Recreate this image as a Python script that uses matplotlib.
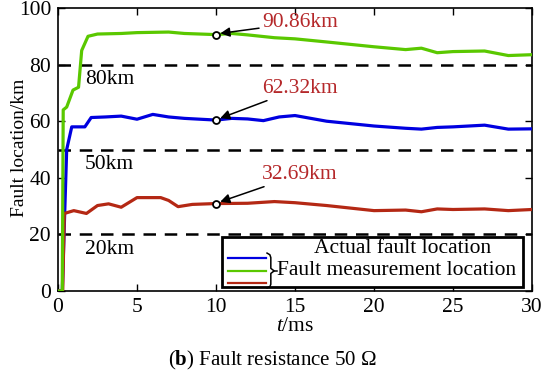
import numpy as np
import matplotlib.pyplot as plt
from matplotlib.patches import Rectangle

plt.rcParams['font.family'] = ['Liberation Serif', 'DejaVu Serif']
plt.rcParams['mathtext.fontset'] = 'custom'
plt.rcParams['mathtext.it'] = 'Liberation Serif:italic'
plt.rcParams['mathtext.rm'] = 'Liberation Serif'
plt.rcParams['mathtext.bf'] = 'Liberation Serif:bold'

t_green = [0, 0.27, 0.33, 0.55, 0.95, 1.3, 1.5, 1.9, 2.5, 4, 5, 7, 8, 10, 11, 12, 13.7, 15,
           17, 20, 22, 23, 24, 25, 27, 28.5, 30]
green = [0, 0, 64, 65, 71, 72, 85, 90, 90.8, 91, 91.3, 91.5, 91, 90.6, 91, 90.5, 89.5, 89.1,
         88, 86.3, 85.3, 85.8, 84.2, 84.6, 84.8, 83.2, 83.5]

t_blue = [0, 0.27, 0.55, 0.87, 1.7, 2.1, 3, 4, 5, 6, 7, 8, 10, 11, 12, 13, 14, 15,
          17, 20, 22, 23, 24, 25, 27, 28.5, 30]
blue = [0, 0, 50, 58, 58, 61.3, 61.5, 61.8, 60.7, 62.4, 61.5, 61, 60.4, 61, 60.8, 60.2, 61.5, 62,
        60, 58.3, 57.5, 57.2, 57.8, 58, 58.6, 57.2, 57.3]

t_red = [0, 0.3, 0.4, 1, 1.8, 2.5, 3.2, 4, 5, 6.5, 7, 7.6, 8.5, 10, 12, 13.7, 15,
         17, 20, 22, 23, 24, 25, 27, 28.5, 30]
red = [0, 0, 27.4, 28.4, 27.4, 30.2, 30.8, 29.6, 33, 33, 32, 29.8, 30.6, 30.9, 31, 31.6, 31.2,
       30.2, 28.4, 28.6, 28, 29, 28.8, 29, 28.4, 28.8]

actual = [80, 50, 20]
actual_labels = ['80km', '50km', '20km']
ann_vals = ['90.86km', '62.32km', '32.69km']
ann_t = 10

c_green = '#5ac800'
c_blue = '#0000e0'
c_red = '#b42814'
c_txt = '#b5282a'
fs = 15.5

fig = plt.figure(figsize=(5.5, 3.77), dpi=100)
ax = fig.add_axes([58/550, 1-291/377, 474/550, 283/377])

for v, lab in zip(actual, actual_labels):
    ax.plot([0, 30], [v, v], color='black', lw=1.8, ls=(0, (5, 3.5)), zorder=2)
    ax.text(1.7, v - 5.4, lab, fontsize=fs, va='center', ha='left')

for tt, yy, c in [(t_blue, blue, c_blue), (t_red, red, c_red), (t_green, green, c_green)]:
    ax.plot(tt, yy, color=c, lw=2.3, zorder=3)

for tt, yy, lab, dy in [(t_green, green, ann_vals[0], 4.2),
                        (t_blue, blue, ann_vals[1], 11.2),
                        (t_red, red, ann_vals[2], 10.3)]:
    yv = np.interp(ann_t, tt, yy)
    ax.plot([ann_t], [yv], marker='o', ms=5, mfc='white', mec='black', mew=1.3, zorder=5)
    ax.annotate(lab, xy=(ann_t + 0.1, yv + 0.3), xytext=(12.9, yv + dy),
                fontsize=fs, color=c_txt, va='center', ha='left', zorder=6,
                arrowprops=dict(arrowstyle='-|>', color='black', lw=1.1,
                                mutation_scale=14, shrinkA=0, shrinkB=2))

# legend drawn by hand
tr = ax.transAxes
ax.add_patch(Rectangle((0.347, 0.014), 0.633, 0.177, transform=tr, facecolor='white',
                       edgecolor='black', lw=2, zorder=7))
for y, c in [(0.117, c_blue), (0.071, c_green), (0.028, c_red)]:
    ax.plot([0.358, 0.439], [y, y], color=c, lw=1.6, transform=tr, zorder=8)
ax.plot([0.441, 0.447, 0.449, 0.449, 0.456, 0.449, 0.449, 0.447, 0.441],
        [0.134, 0.128, 0.118, 0.080, 0.071, 0.062, 0.024, 0.015, 0.011],
        color='black', lw=1.1, transform=tr, zorder=8, solid_joinstyle='round',
        clip_on=False)
ax.plot([0.456, 0.462], [0.071, 0.071], color='black', lw=1.1, transform=tr, zorder=8)
ax.text(0.727, 0.150, 'Actual fault location', transform=tr, fontsize=fs,
        ha='center', va='center', zorder=9)
ax.text(0.462, 0.071, 'Fault measurement location', transform=tr, fontsize=fs,
        ha='left', va='center', zorder=9)

ax.set_xlim(0, 30)
ax.set_ylim(0, 100)
ax.set_xticks([0, 5, 10, 15, 20, 25, 30])
ax.set_yticks([0, 20, 40, 60, 80, 100])
ax.tick_params(direction='in', top=True, right=True, length=5, width=1,
               labelsize=fs, pad=5)
for s in ax.spines.values():
    s.set_linewidth(1.2)
fig.text(20/550, 1-148/377, 'Fault location/km', fontsize=14, rotation=90,
         ha='center', va='center')
ax.set_xlabel(r'$t$/ms', fontsize=fs, labelpad=0)

fig.text(272/550, 1-360/377, r'($\mathbf{b}$) Fault resistance 50 $\Omega$', fontsize=15,
         ha='center', va='center')

fig.savefig('out.png', dpi=100)
